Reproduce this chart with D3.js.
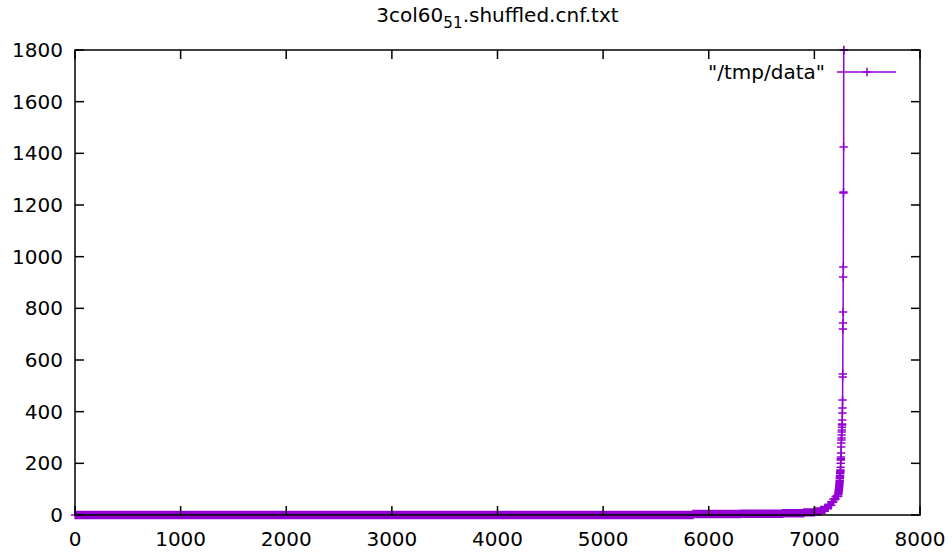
<!DOCTYPE html>
<html>
<head>
<meta charset="utf-8">
<script src="https://cdn.jsdelivr.net/npm/d3@7/dist/d3.min.js"></script>
<style>
  html, body { margin: 0; padding: 0; background: #fff; }
  svg { display: block; font-family: "DejaVu Sans", sans-serif; }
</style>
</head>
<body>
<svg id="chart" width="952" height="553"></svg>
<script>
// ---- data ----
const titleMain = "3col60";
const titleSub = "51";
const titleRest = ".shuffled.cnf.txt";
const legendLabel = "\"/tmp/data\"";
const xTicks = [0, 1000, 2000, 3000, 4000, 5000, 6000, 7000, 8000];
const yTicks = [0, 200, 400, 600, 800, 1000, 1200, 1400, 1600, 1800];
// runs of (first index, last index, value) for the flat part of the sorted series
const runStarts = [1, 5851, 6301, 6701, 6901, 7001, 7061, 7101, 7131, 7161, 7181, 7201];
const runEnds   = [5850, 6300, 6700, 6900, 7000, 7060, 7100, 7130, 7160, 7180, 7200, 7225];
const runValues = [0, 4, 5, 7, 10, 14, 20, 28, 38, 50, 62, 72];
// steep tail, one value per index starting at tailStart
const tailStart = 7226;
const tailValues = [78, 82, 85, 88, 92, 95, 98, 102, 105, 110,
  114, 118, 124, 130, 135, 142, 147, 152, 160, 164,
  168, 174, 185, 200, 213, 218, 225, 240, 263, 279,
  290, 298, 310, 321, 329, 340, 348, 352, 368, 395,
  414, 445, 534, 546, 720, 743, 786, 921, 960, 1246,
  1250, 1425, 1800, 1800, 1800];

// ---- build series ----
const data = [];
runStarts.forEach((s, k) => {
  for (let i = s; i <= runEnds[k]; i++) data.push([i, runValues[k]]);
});
tailValues.forEach((v, k) => data.push([tailStart + k, v]));

// ---- layout ----
const svg = d3.select("#chart");
const L = 75, R = 920, T = 50, B = 515;
const color = "#9400d3";
const fs = 20;

const x = d3.scaleLinear().domain([0, 8000]).range([L, R]);
const y = d3.scaleLinear().domain([0, 1800]).range([B, T]);

// title
const title = svg.append("text")
  .attr("x", (L + R) / 2).attr("y", 22)
  .attr("text-anchor", "middle")
  .attr("font-size", fs).attr("fill", "#000");
title.append("tspan").text(titleMain);
title.append("tspan").attr("font-size", fs * 0.76).attr("dy", 6).text(titleSub);
title.append("tspan").attr("dy", -6).text(titleRest);

// data line
svg.append("path")
  .datum(data)
  .attr("fill", "none")
  .attr("stroke", color)
  .attr("stroke-width", 1.5)
  .attr("d", d3.line().x(d => x(d[0])).y(d => y(d[1])));

// point markers (+)
const ps = 4.2;
let pd = "";
data.forEach(d => {
  const px = x(d[0]), py = y(d[1]);
  pd += `M${(px - ps).toFixed(2)},${py.toFixed(2)}h${2 * ps}M${px.toFixed(2)},${(py - ps).toFixed(2)}v${2 * ps}`;
});
svg.append("path").attr("d", pd).attr("fill", "none")
  .attr("stroke", color).attr("stroke-width", 1.5);

// border and ticks (front)
const g = svg.append("g").attr("stroke", "#000").attr("stroke-width", 1.5).attr("fill", "none");
const tl = 9;
xTicks.forEach(t => {
  g.append("line").attr("x1", x(t)).attr("x2", x(t)).attr("y1", B).attr("y2", B - tl);
  g.append("line").attr("x1", x(t)).attr("x2", x(t)).attr("y1", T).attr("y2", T + tl);
});
yTicks.forEach(t => {
  g.append("line").attr("x1", L).attr("x2", L + tl).attr("y1", y(t)).attr("y2", y(t));
  g.append("line").attr("x1", R).attr("x2", R - tl).attr("y1", y(t)).attr("y2", y(t));
});
g.append("rect").attr("x", L).attr("y", T).attr("width", R - L).attr("height", B - T);

// tick labels
svg.append("g").selectAll("text").data(xTicks).join("text")
  .attr("x", d => x(d)).attr("y", 546)
  .attr("text-anchor", "middle").attr("font-size", fs).text(d => d);
svg.append("g").selectAll("text").data(yTicks).join("text")
  .attr("x", L - 12).attr("y", d => y(d) + 7)
  .attr("text-anchor", "end").attr("font-size", fs).text(d => d);

// legend
svg.append("text").attr("x", 825).attr("y", 79)
  .attr("text-anchor", "end").attr("font-size", fs).text(legendLabel);
svg.append("line").attr("x1", 837).attr("x2", 896).attr("y1", 72).attr("y2", 72)
  .attr("stroke", color).attr("stroke-width", 1.5);
svg.append("path").attr("d", `M${867 - ps},72h${2 * ps}M867,${72 - ps}v${2 * ps}`)
  .attr("stroke", color).attr("stroke-width", 1.5).attr("fill", "none");
</script>
</body>
</html>
